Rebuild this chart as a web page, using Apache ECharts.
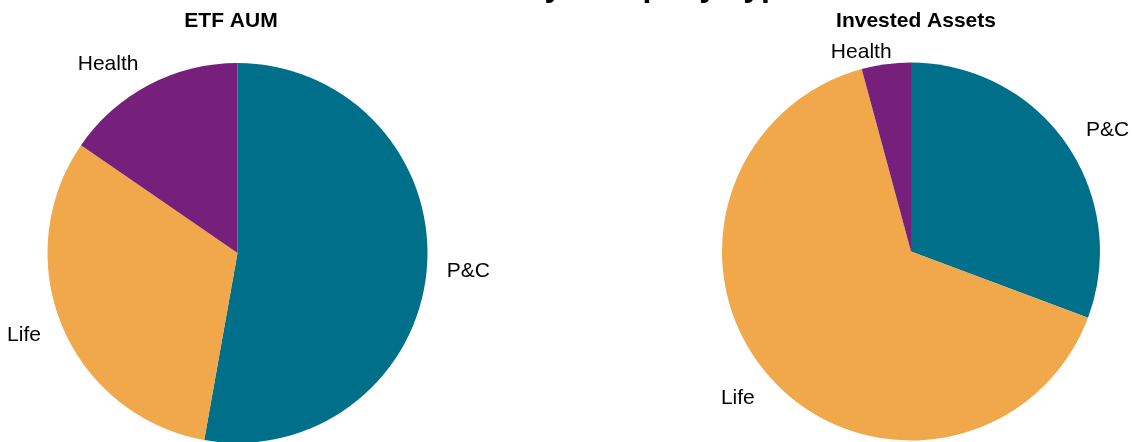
<!DOCTYPE html>
<html>
<head>
<meta charset="utf-8">
<script src="https://cdn.jsdelivr.net/npm/echarts@6/dist/echarts.min.js"></script>
<style>
html,body{margin:0;padding:0;background:#fff;}
#chart{width:1132px;height:442px;}
</style>
</head>
<body>
<div id="chart"></div>
<script>
const categories = ['P&C', 'Life', 'Health'];
const etfAum = [52.8, 31.8, 15.4];
const investedAssets = [30.7, 65.1, 4.2];
const mainTitle = 'Breakdown by Company Type';
const subTitles = ['ETF AUM', 'Invested Assets'];
const colors = ['#006F89', '#F0A84B', '#76207C'];

const FONT = '"Liberation Sans", Arial, sans-serif';

// per-slice label tweaks (line length, text gap) to follow the reference placement
function pieSeries(values, cx, cy, r, lineLen, tweaks) {
  return {
    type: 'pie',
    center: [cx, cy],
    radius: r,
    startAngle: 90,
    clockwise: true,
    silent: true,
    avoidLabelOverlap: false,
    data: categories.map((c, i) => {
      const item = { name: c, value: values[i], itemStyle: { color: colors[i] } };
      const t = tweaks && tweaks[c];
      if (t) {
        item.labelLine = { show: false, length: t.len, length2: 0 };
        item.label = { distanceToLabelLine: t.gap };
      }
      return item;
    }),
    itemStyle: { borderWidth: 0 },
    label: {
      show: true,
      position: 'outside',
      formatter: '{b}',
      color: '#000',
      fontFamily: FONT,
      fontSize: 21,
      distanceToLabelLine: 0
    },
    labelLine: { show: false, length: lineLen, length2: 0 },
    emphasis: { disabled: true }
  };
}

const chart = echarts.init(document.getElementById('chart'), null, { renderer: 'canvas' });
chart.setOption({
  animation: false,
  backgroundColor: '#fff',
  title: [
    { text: mainTitle, left: 566, top: -34, textAlign: 'center',
      textStyle: { fontFamily: FONT, fontSize: 32, fontWeight: 'bold', color: '#000' } },
    { text: subTitles[0], left: 226, top: 6, textAlign: 'center',
      textStyle: { fontFamily: FONT, fontSize: 21, fontWeight: 'bold', color: '#000' } },
    { text: subTitles[1], left: 911, top: 6, textAlign: 'center',
      textStyle: { fontFamily: FONT, fontSize: 21, fontWeight: 'bold', color: '#000' } }
  ],
  series: [
    pieSeries(etfAum, 237.5, 253, 190, 23, { 'P&C': { len: 22, gap: -2 } }),
    pieSeries(investedAssets, 911, 251.5, 189, 24, {
      'Health': { len: 12, gap: -7 },
      'Life': { len: 29, gap: -5 }
    })
  ]
});
</script>
</body>
</html>
